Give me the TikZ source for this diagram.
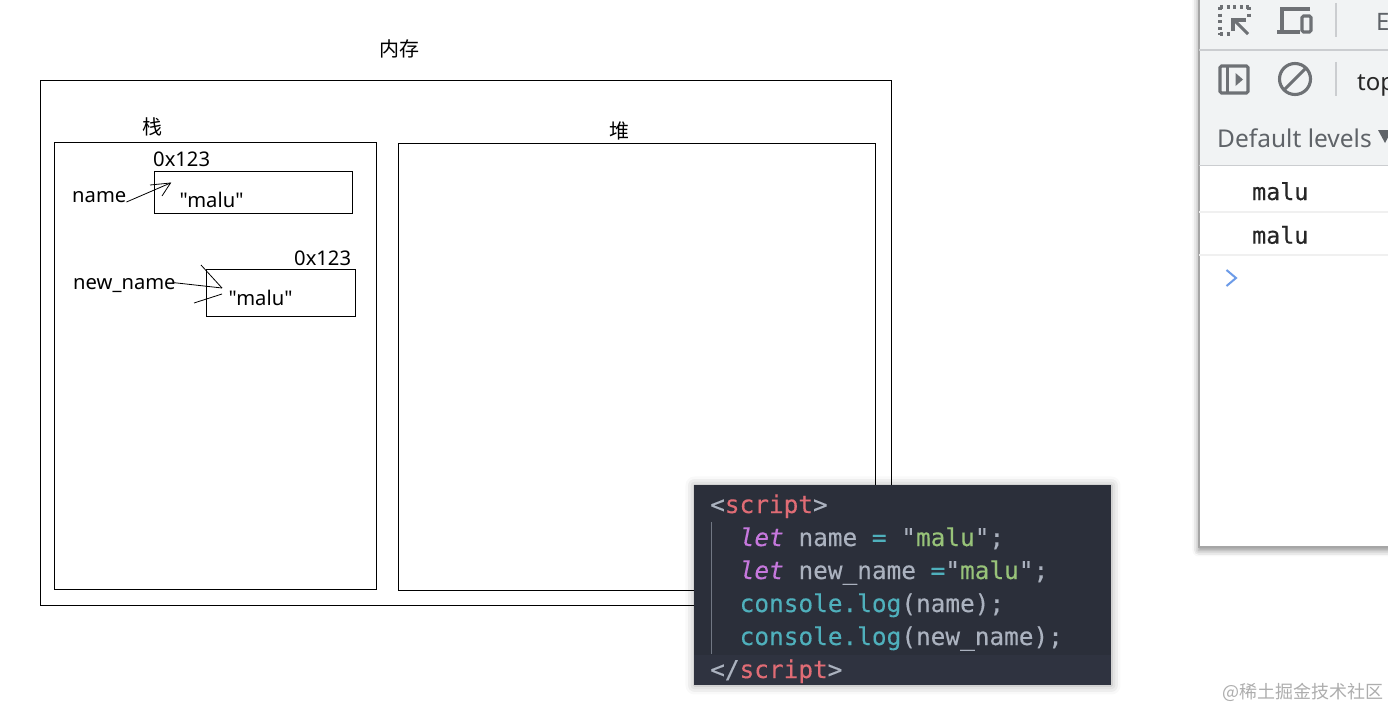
\documentclass[tikz,border=0pt]{standalone}
\usepackage{fontspec}
\setmainfont[Ligatures=TeXOff]{Noto Sans}
\setmonofont[FakeBold=0.25]{DejaVu Sans Mono}
\newfontfamily\cjkfont{Noto Sans CJK SC}
\usetikzlibrary{shadows.blur}
\definecolor{panelbg}{HTML}{2B2F3A}
\definecolor{panelbot}{HTML}{2F3340}
\definecolor{cpunct}{HTML}{ABB2BF}
\definecolor{ctag}{HTML}{E06C75}
\definecolor{ckey}{HTML}{C678DD}
\definecolor{cstr}{HTML}{98C379}
\definecolor{ccyan}{HTML}{4FB0BC}
\definecolor{dtbg}{HTML}{F1F3F4}
\definecolor{dtline}{HTML}{CBCDD0}
\definecolor{dticon}{HTML}{6E7175}
\definecolor{dttext}{HTML}{5F6368}
\definecolor{dtblue}{HTML}{6C9BE8}
\tikzset{
  box/.style={draw=black,line width=0.9pt,inner sep=0pt,anchor=north west},
  lbl/.style={inner sep=0pt,anchor=base west,font=\fontsize{20.2}{24}\selectfont,text=black},
  cjk/.style={inner sep=0pt,anchor=center,font=\cjkfont\fontsize{20}{24}\selectfont,text=black},
  code/.style={inner sep=0pt,anchor=base west,font=\ttfamily\fontsize{24.4}{29}\selectfont,text=cpunct},
  hand/.style={draw=black,line width=0.8pt},
  dtl/.style={draw=dtline,line width=1.6pt},
  sep/.style={draw=dtline,line width=1.4pt},
  icon/.style={draw=dticon,line width=3.1pt},
  con/.style={inner sep=0pt,anchor=base west,font=\ttfamily\fontsize{23.3}{28}\selectfont,text=black!85},
}
\begin{document}
\begin{tikzpicture}[x=1pt,y=-1pt]
\useasboundingbox (0,0) rectangle (1388,709);
\clip (0,0) rectangle (1388,709);
% memory diagram
\node[box,minimum width=851pt,minimum height=525pt] (outer) at (39.5,79.5) {};
\node[box,minimum width=322pt,minimum height=447.5pt] (stack) at (54,141.5) {};
\node[box,minimum width=477.5pt,minimum height=447.5pt] (heap) at (397.5,142.5) {};
\node[box,minimum width=198pt,minimum height=42pt] (nbox) at (153.5,170.5) {};
\node[box,minimum width=149pt,minimum height=47pt] (nnbox) at (205.5,268.5) {};
\node[cjk] (tmem) at (399,49) {内存};
\node[cjk] (tstack) at (152,127) {栈};
\node[cjk] (theap) at (619.5,131) {堆};
\node[lbl] (addr1) at (153,166) {0x123};
\node[lbl] (addr2) at (294,265) {0x123};
\node[lbl] (name) at (72,202) {name};
\node[lbl] (newname) at (73,289) {new\_name};
\node[lbl] (v1) at (179.5,207) {"malu"};
\node[lbl] (v2) at (228.5,305) {"malu"};
% hand drawn arrows
\coordinate (tip1) at (170.5,183);
\coordinate (h1a) at (150,185);
\coordinate (h1b) at (162,196);
\coordinate (tip2) at (222,288);
\coordinate (h2a) at (201,265);
\coordinate (tip3) at (222,294);
\coordinate (h2b) at (194,303);
\draw[hand] (name.base east) -- (tip1);
\draw[hand] (h1a) -- (tip1) -- (h1b);
\draw[hand] (newname.east)++(-3,-2.5) -- (tip2);
\draw[hand] (h2a) -- (tip2);
\draw[hand] (h2b) -- (tip3);
% code panel
\node[box,draw=none,fill=panelbg,minimum width=417pt,minimum height=200pt,
  blur shadow={shadow xshift=0pt,shadow yshift=0pt,shadow blur radius=9pt,shadow opacity=35}] (panel) at (694,485) {};
\fill[panelbot] (694,655) rectangle (1111,685);
\draw[draw=cpunct!55!panelbg,line width=1pt] (711,522) -- (711,654);
\node[code] (c1) at (710,513) {<\textcolor{ctag}{script}>};
\node[code] (c2) at (739.5,546) {\textcolor{ckey}{\itshape let} name \textcolor{ccyan}{=} "\textcolor{cstr}{malu}";};
\node[code] (c3) at (739.5,579) {\textcolor{ckey}{\itshape let} new\_name \textcolor{ccyan}{=}"\textcolor{cstr}{malu}";};
\node[code] (c4) at (739.5,612) {\textcolor{ccyan}{console.log}(name);};
\node[code] (c5) at (739.5,645) {\textcolor{ccyan}{console.log}(new\_name);};
\node[code] (c6) at (710,678) {</\textcolor{ctag}{script}>};
% devtools panel
\node[box,draw=none,fill=white,minimum width=200pt,minimum height=558pt,
  blur shadow={shadow xshift=-1pt,shadow yshift=-2pt,shadow blur radius=6pt,shadow opacity=45}] (dt) at (1199,-10) {};
\fill[dtbg] (1199,-10) rectangle (1400,165);
\draw[draw=black!35,line width=1.2pt] (1199,-10) -- (1199,547) -- (1400,547);
\draw[dtl] (1199,50) -- (1400,50);
\draw[dtl] (1199,165.5) -- (1400,165.5);
\draw[draw=black!6,line width=1.4pt] (1199,212) -- (1400,212);
\draw[draw=black!6,line width=1.4pt] (1199,255) -- (1400,255);
% toolbar icons
\draw[icon,dash pattern=on 3pt off 3.6pt] (1220,7) -- (1249,7);
\draw[icon,dash pattern=on 3pt off 3.6pt] (1220,7) -- (1220,35);
\draw[icon,dash pattern=on 3pt off 3.6pt] (1249,7) -- (1249,20);
\draw[icon,dash pattern=on 3pt off 3.6pt] (1220,34) -- (1231,34);
\draw[icon] (1248,34) -- (1234,20);
\draw[icon] (1233,31) -- (1233,20) -- (1246,20);
\draw[icon] (1282,32) -- (1282,9) -- (1310,9);
\draw[icon,line width=3.8pt] (1277,32) -- (1300,32);
\draw[icon,rounded corners=1.5pt] (1302,16) rectangle (1311,32);
\draw[sep] (1336,3) -- (1336,37);
\draw[icon,rounded corners=1.5pt] (1220,66) rectangle (1248,93);
\draw[icon] (1227.5,66) -- (1227.5,93);
\fill[dticon] (1235.5,73) -- (1243,79.5) -- (1235.5,86) -- cycle;
\draw[icon] (1295,79) circle (15.5);
\draw[icon] (1284,90) -- (1306,68);
\draw[sep] (1336,62) -- (1336,96);
\node[con,font=\fontsize{24}{28}\selectfont,text=black!85] (ttop) at (1357,90) {top};
\node[con,font=\fontsize{24}{28}\selectfont,text=dttext] (te) at (1376,31) {E};
\node[lbl,font=\fontsize{24.5}{28}\selectfont,text=dttext] (levels) at (1217,147) {Default levels};
\fill[dttext] (1378,130) -- (1392,130) -- (1385,143) -- cycle;
\node[con] (m1) at (1252,200) {malu};
\node[con] (m2) at (1252,243.7) {malu};
\draw[draw=dtblue,line width=2pt] (1226.5,270) -- (1236,278) -- (1226.5,286);
% watermark
\node[inner sep=0pt,anchor=base west,font=\cjkfont\fontsize{18}{22}\selectfont,text=black!32] (wm) at (1222,698) {@稀土掘金技术社区};
\end{tikzpicture}
\end{document}
